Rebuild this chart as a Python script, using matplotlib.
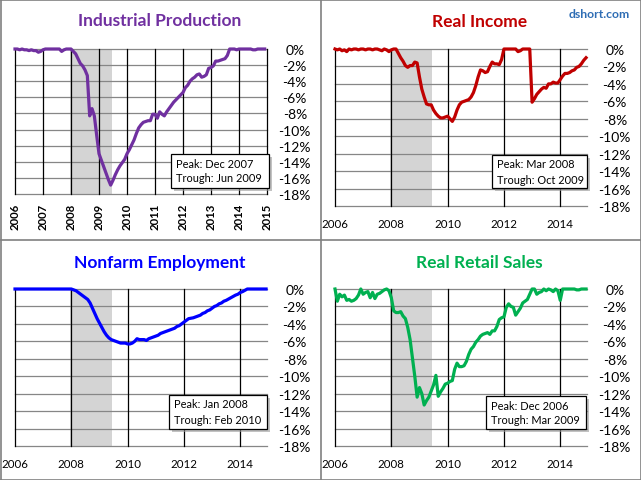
import numpy as np
import matplotlib
matplotlib.use("Agg")
import matplotlib.pyplot as plt
from matplotlib.patches import Rectangle
from matplotlib.lines import Line2D

# ---------------- data (% below previous peak, monthly Jan 2006 - Dec 2014) ----------------
industrial_production = [
    0, 0, -0.1, 0, -0.1, -0.1, -0.2, -0.1, -0.2, -0.2, -0.4, -0.3,
    -0.1, 0, 0, 0, 0, 0, 0, 0, -0.3, -0.1, 0, 0,
    0, -0.3, -0.6, -1.2, -1.8, -2.1, -2.6, -3.3, -8.3, -7.4, -8.3, -10.7,
    -13.0, -13.8, -14.6, -15.4, -16.2, -16.9, -16.3, -15.6, -15.0, -14.5, -14.1, -13.7,
    -13.0, -12.5, -11.9, -11.3, -10.5, -9.8, -9.4, -9.1, -9.0, -8.9, -8.9, -8.1,
    -8.1, -8.6, -7.8, -8.1, -8.3, -7.8, -7.4, -7.0, -6.6, -6.3, -6.0, -5.7,
    -5.4, -4.8, -4.5, -4.0, -3.7, -3.5, -3.2, -3.1, -3.5, -3.4, -3.2, -2.4,
    -2.3, -2.1, -1.5, -1.5, -1.4, -1.3, -1.2, -0.8, 0, 0, 0, -0.1,
    0, 0, 0, 0, 0, 0, -0.1, -0.1, 0, 0, 0, 0,
]
real_income = [
    0, -0.1, 0, -0.2, -0.1, -0.3, 0, -0.1, 0, 0, -0.1, 0,
    0, -0.1, 0, 0, -0.1, 0, 0, -0.1, -0.2, 0, -0.1, -0.3,
    -0.1, 0, 0, -0.5, -1.0, -1.4, -1.9, -2.1, -1.9, -1.9, -1.5, -1.6,
    -3.2, -4.6, -5.5, -6.3, -6.4, -6.4, -7.0, -7.4, -7.7, -7.9, -7.9, -7.8,
    -7.7, -8.0, -8.3, -7.8, -7.0, -6.4, -6.1, -6.0, -5.9, -5.8, -5.5, -5.0,
    -4.2, -3.2, -2.4, -2.5, -2.7, -2.6, -2.0, -1.5, -1.7, -1.7, -1.8, -1.2,
    0, 0, 0, 0, 0, 0, -0.3, -0.2, 0, 0, 0, 0,
    -6.1, -5.7, -5.2, -4.9, -4.6, -4.4, -4.5, -4.0, -4.0, -3.8, -3.9, -3.9,
    -3.5, -3.1, -2.8, -2.8, -2.7, -2.5, -2.4, -2.1, -2.0, -1.7, -1.3, -1.0,
]
nonfarm_employment = [
    0, 0, 0, 0, 0, 0, 0, 0, 0, 0, 0, 0,
    0, 0, 0, 0, 0, 0, 0, 0, 0, 0, 0, 0,
    0, -0.1, -0.2, -0.4, -0.6, -0.8, -1.0, -1.2, -1.6, -2.2, -2.8, -3.4,
    -3.9, -4.4, -4.9, -5.3, -5.6, -5.8, -5.9, -6.0, -6.1, -6.2, -6.2, -6.2,
    -6.3, -6.3, -6.2, -6.0, -5.7, -5.8, -5.8, -5.8, -5.9, -5.7, -5.6, -5.5,
    -5.4, -5.3, -5.1, -5.0, -4.9, -4.8, -4.7, -4.6, -4.5, -4.3, -4.2, -4.0,
    -3.8, -3.6, -3.4, -3.35, -3.3, -3.2, -3.1, -3.0, -2.8, -2.7, -2.5, -2.4,
    -2.2, -2.0, -1.9, -1.7, -1.6, -1.4, -1.3, -1.15, -1.0, -0.85, -0.7, -0.6,
    -0.4, -0.3, -0.15, 0, 0, 0, 0, 0, 0, 0, 0, 0,
]
real_retail_sales = [
    0, -1.4, -0.6, -0.9, -0.7, -1.3, -1.2, -1.4, -1.3, -1.1, -0.7, 0,
    -0.6, -0.4, -0.3, -1.0, -0.4, -1.1, -0.6, -0.5, -0.3, -0.1, 0, -0.2,
    -1.0, -2.5, -2.7, -2.7, -2.6, -3.1, -3.4, -4.4, -5.8, -7.9, -10.0, -12.4,
    -11.3, -12.0, -13.3, -12.8, -12.4, -11.7, -11.0, -9.9, -12.3, -11.8, -11.4, -10.9,
    -10.8, -10.6, -10.5, -9.2, -8.5, -8.9, -8.9, -8.8, -8.3, -7.5, -6.9, -6.6,
    -6.1, -5.8, -5.4, -5.2, -5.1, -5.0, -5.2, -4.8, -4.8, -4.3, -3.5, -3.3,
    -3.2, -2.1, -1.7, -2.0, -2.1, -3.0, -2.6, -2.2, -1.6, -1.4, -1.2, -0.6,
    0, 0, -0.6, -0.4, -0.3, 0, -0.2, 0, -0.1, -0.3, 0, -0.2,
    -1.3, 0, 0, 0, 0, 0, 0, -0.1, -0.1, 0, 0, 0,
]
titles = ["Industrial Production", "Real Income", "Nonfarm Employment", "Real Retail Sales"]
peak_labels = ["Peak: Dec 2007", "Peak: Mar 2008", "Peak: Jan 2008", "Peak: Dec 2006"]
trough_labels = ["Trough: Jun 2009", "Trough: Oct 2009", "Trough: Feb 2010", "Trough: Mar 2009"]
y_ticks = list(range(-18, 1, 2))
y_tick_labels = [f"{v}%" for v in y_ticks]
recession = (2007.96, 2009.45)
start_year = 2006

# ---------------- figure ----------------
W, H = 641, 481
fig = plt.figure(figsize=(W / 100, H / 100), dpi=100)
fig.patch.set_facecolor("white")
FONT = "Lato"
colors = ["#7030A0", "#C00000", "#0000FF", "#00B050"]

def fx(px):
    return px / W

def fy(py):
    return 1 - py / H

def px_axes(l, t, r, b):
    return fig.add_axes([l / W, 1 - b / H, (r - l) / W, (b - t) / H])

panels = [
    dict(box=(15, 50, 267, 195), xlim=(2006, 2015), xt=list(range(2006, 2016)), rot=True,
         title=(160, 21), note=(171, 155, 269, 189)),
    dict(box=(335, 50, 587, 207), xlim=(2006, 2014.95), xt=list(range(2006, 2015, 2)), rot=False,
         title=(480, 22), note=(492, 156, 587, 189)),
    dict(box=(15, 290, 267, 447), xlim=(2006, 2014.95), xt=list(range(2006, 2015, 2)), rot=False,
         title=(160, 263), note=(169, 396, 267, 430)),
    dict(box=(335, 290, 587, 447), xlim=(2006, 2014.95), xt=list(range(2006, 2015, 2)), rot=False,
         title=(479, 263), note=(486, 397, 586, 430)),
]
series = [industrial_production, real_income, nonfarm_employment, real_retail_sales]

for i, (p, vals) in enumerate(zip(panels, series)):
    ax = px_axes(*p["box"])
    x = start_year + np.arange(len(vals)) / 12.0
    ax.set_xlim(*p["xlim"])
    ax.set_ylim(-18, 0)
    ax.axvspan(*recession, color="#D4D4D4", lw=0, zorder=0)
    for v in y_ticks:
        ax.axhline(v, color="#868686", lw=0.9, zorder=1, clip_on=False)
    for v in p["xt"]:
        ax.axvline(v, color="#000000", lw=0.9, zorder=1, clip_on=False)
    ax.plot(x, vals, color=colors[i], lw=2.3, zorder=3, clip_on=False, solid_joinstyle="round")
    for s in ax.spines.values():
        s.set_visible(False)
    ax.set_facecolor("none")
    ax.yaxis.tick_right()
    ax.set_yticks(y_ticks)
    ax.set_yticklabels(y_tick_labels, fontsize=10, fontfamily=FONT)
    for lab in ax.get_yticklabels():
        lab.set_horizontalalignment("center")
    ax.tick_params(axis="y", length=0, pad=20)
    ax.set_xticks(p["xt"])
    if p["rot"]:
        ax.set_xticklabels([str(v) for v in p["xt"]], rotation=90, fontsize=8.2,
                           fontfamily=FONT, fontweight="bold")
        ax.tick_params(axis="x", length=0, pad=6.5)
    else:
        ax.set_xticklabels([str(v) for v in p["xt"]], fontsize=8.3, fontfamily=FONT)
        ax.tick_params(axis="x", length=0, pad=8.5)

    tx, ty = p["title"]
    fig.text(fx(tx), fy(ty), titles[i], ha="center", va="center", fontsize=12.5,
             fontweight="bold", color=colors[i], fontfamily=FONT)

    l, t, r, b = p["note"]
    fig.add_artist(Rectangle((fx(l + 3), fy(b + 3)), (r - l) / W, (b - t) / H,
                             transform=fig.transFigure, facecolor="#9a9a9a", edgecolor="none",
                             alpha=0.6, zorder=5))
    fig.add_artist(Rectangle((fx(l), fy(b)), (r - l) / W, (b - t) / H,
                             transform=fig.transFigure, facecolor="white", edgecolor="black",
                             lw=0.9, zorder=6))
    fig.text(fx(l + 5), fy(t + 9), peak_labels[i], ha="left", va="center", fontsize=7.9,
             fontfamily=FONT, zorder=7)
    fig.text(fx(l + 5), fy(t + 24), trough_labels[i], ha="left", va="center", fontsize=7.9,
             fontfamily=FONT, zorder=7)

fig.text(fx(599), fy(15), "dshort.com", ha="center", va="center", fontsize=8.8,
         fontweight="bold", color="#2E6DB4", fontfamily=FONT)

# panel borders
bc = "#808080"
for (x0, y0, x1, y1) in [(0.5, 0.5, 640.5, 0.5), (0.5, 480.5, 640.5, 480.5),
                         (0.5, 0.5, 0.5, 480.5), (640.5, 0.5, 640.5, 480.5),
                         (320.5, 0.5, 320.5, 480.5), (0.5, 240.5, 640.5, 240.5)]:
    fig.add_artist(Line2D([fx(x0), fx(x1)], [fy(y0), fy(y1)], transform=fig.transFigure,
                          color=bc, lw=1.2))

fig.savefig("out.png", dpi=100, facecolor="white")
